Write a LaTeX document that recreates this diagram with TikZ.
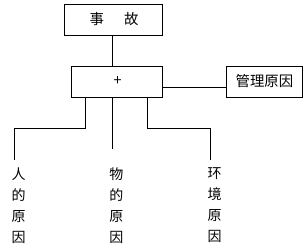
\documentclass[tikz,border=0pt]{standalone}
\usepackage{fontspec}
\newfontfamily\cjk{Noto Sans CJK SC}
\usepackage{tikz}
\usetikzlibrary{positioning}
\usetikzlibrary{calc}

\begin{document}
\begin{tikzpicture}[
    x=0.75pt, y=-0.75pt, % one unit per pixel, y downwards
    line width=0.75pt,
    % Styling for the nodes
    causeBox/.style={
        rectangle,
        draw,
        minimum height=23.25pt,
        inner sep=0pt,
        font=\cjk\fontsize{10.8pt}{13pt}\selectfont
    },
    causeColumn/.style={
        align=center,
        inner sep=0pt,
        font=\cjk\fontsize{10.5pt}{15.75pt}\selectfont
    }
]
    \useasboundingbox (0,0) rectangle (308,247);

    % Define Nodes
    \node[causeBox, minimum width=73.5pt] (accident) at (114,19.5) {事\hspace{1.4em}故};
    \node[causeBox, minimum width=68.25pt] (plus) at (117.5,81.5) {+};
    \node[causeBox, minimum width=57pt] (management) at (264.5,81.5) {管理原因};
    \node[causeColumn] (human) at (18.5,205.5) {人\\的\\原\\因};
    \node[causeColumn] (object) at (116.5,205.5) {物\\的\\原\\因};
    \node[causeColumn] (environment) at (214.5,205.5) {环\\境\\原\\因};

    % Branch points
    \coordinate (side) at (0,87);
    \coordinate (hBend) at (86,128);
    \coordinate (hEnd) at (15,160);
    \coordinate (mEnd) at (113,149);
    \coordinate (eBend) at (148,128);
    \coordinate (eEnd) at (211,160);

    % Draw Edges
    \draw (accident.south -| mEnd) -- (plus.north -| mEnd);
    \draw (plus.east |- side) -- (management.west |- side);
    \draw (plus.south -| hBend) -- (hBend) -| (hEnd);
    \draw (plus.south -| mEnd) -- (mEnd);
    \draw (plus.south -| eBend) -- (eBend) -| (eEnd);

\end{tikzpicture}
\end{document}
